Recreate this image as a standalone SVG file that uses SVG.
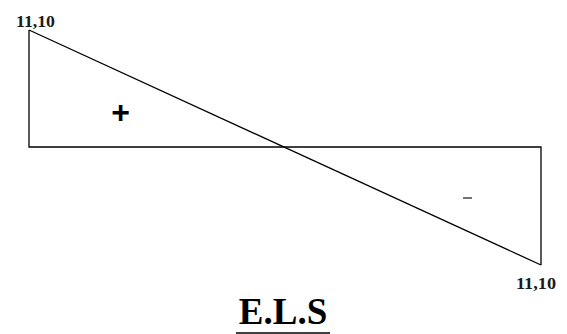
<svg xmlns="http://www.w3.org/2000/svg" width="567" height="334" viewBox="0 0 567 334">
<style>
.ln{stroke:#000;stroke-width:1.3;fill:none}
.val{font-family:"Liberation Serif",serif;font-weight:bold;font-size:16px;fill:#1a1a1a}
.sign{font-family:"Liberation Sans",sans-serif;font-weight:bold;fill:#000}
</style>
<rect width="567" height="334" fill="#fff"/>
<g id="diagram">
<polyline class="ln" points="29,30 29,147 541,147 541,265"/>
<line class="ln" x1="29" y1="30" x2="541" y2="265"/>
</g>
<g id="labels">
<text class="val" x="16" y="27" textLength="39" lengthAdjust="spacingAndGlyphs">11,10</text>
<text class="val" x="516" y="289" textLength="40" lengthAdjust="spacingAndGlyphs">11,10</text>
<text class="sign" x="120.5" y="123" font-size="32" text-anchor="middle">+</text>
<line x1="463" y1="198" x2="472" y2="198" stroke="#444" stroke-width="1.5"/>
<text x="283" y="324" text-anchor="middle" font-family="Liberation Serif,serif" font-weight="bold" font-size="37" fill="#000">E.L.S</text>
<line x1="236" y1="333" x2="330" y2="333" stroke="#000" stroke-width="1.5"/>
</g>
</svg>
